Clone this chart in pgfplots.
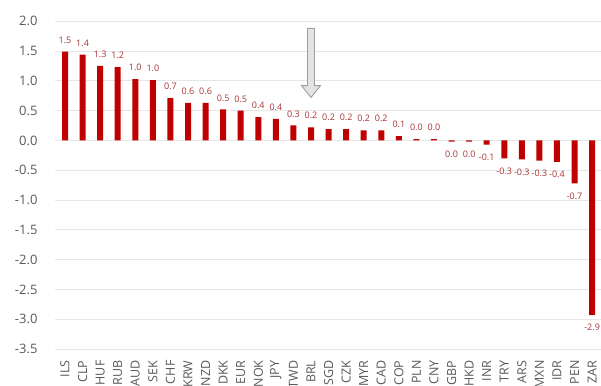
\documentclass[border=0pt]{standalone}
\usepackage{pgfplots}
\pgfplotsset{compat=1.18}
\usepackage{fontspec}
\setmainfont{Open Sans}
\definecolor{barred}{HTML}{C00000}
\definecolor{lblred}{HTML}{A83232}
\definecolor{tickgray}{HTML}{595959}
\definecolor{gridgray}{HTML}{E6E6E6}
\begin{document}
\begin{tikzpicture}
\path[use as bounding box, clip] (-55pt,-36pt) rectangle (546pt,349pt);
\begin{axis}[
  at={(0pt,0pt)}, anchor=south west,
  x=17.57pt, y=59.6pt,
  xmin=-0.57, xmax=30.55, ymin=-3.5, ymax=2.0,
  axis line style={draw=none},
  tick style={draw=none},
  ytick={-3.5,-3,...,2},
  ymajorgrids,
  major grid style={gridgray, line width=0.8pt},
  xtick={0,...,30},
  xticklabels={ILS,CLP,HUF,RUB,AUD,SEK,CHF,KRW,NZD,DKK,EUR,NOK,JPY,TWD,BRL,SGD,CZK,MYR,CAD,COP,PLN,CNY,GBP,HKD,INR,TRY,ARS,MXN,IDR,PEN,ZAR},
  x tick label style={rotate=90, anchor=east, font=\fontsize{12.5}{12.5}\selectfont, text=tickgray},
  xticklabel shift=8pt,
  y tick label style={font=\fontsize{13}{13}\selectfont, text=tickgray, anchor=east, xshift=-14pt},
  /pgf/number format/.cd, fixed, fixed zerofill, precision=1, assume math mode=true,
  /pgfplots/.cd,
  clip=false,
]
\addplot[ybar, bar width=6pt, bar shift=0pt, fill=barred, draw=none,
  nodes near coords, point meta=explicit symbolic,
  every node near coord/.append style={font=\fontsize{9}{9}\selectfont, text=lblred, inner xsep=0pt, inner ysep=8pt}]
coordinates {
(0,1.49)[1.5] (1,1.44)[1.4] (2,1.25)[1.3] (3,1.23)[1.2] (4,1.03)[1.0] (5,1.01)[1.0]
(6,0.71)[0.7] (7,0.63)[0.6] (8,0.63)[0.6] (9,0.52)[0.5] (10,0.50)[0.5] (11,0.39)[0.4]
(12,0.36)[0.4] (13,0.25)[0.3] (14,0.22)[0.2] (15,0.19)[0.2] (16,0.19)[0.2] (17,0.17)[0.2]
(18,0.17)[0.2] (19,0.07)[0.1] (20,0.02)[0.0] (21,0.02)[0.0]
};
\addplot[ybar, bar width=6pt, bar shift=0pt, fill=barred, draw=none,
  nodes near coords, point meta=explicit symbolic, nodes near coords align={below},
  every node near coord/.append style={font=\fontsize{9}{9}\selectfont, text=lblred, inner xsep=0pt, inner ysep=9pt}]
coordinates {
(22,-0.02)[0.0] (23,-0.02)[0.0]
(24,-0.07)[-0.1] (25,-0.30)[-0.3] (26,-0.32)[-0.3] (27,-0.34)[-0.3] (28,-0.36)[-0.4]
(29,-0.72)[-0.7] (30,-2.93)[-2.9]
};
\draw[gray!75, fill=gray!22, line width=0.9pt]
 (axis cs:13.8,1.88) -- (axis cs:14.2,1.88) -- (axis cs:14.2,0.92) -- (axis cs:14.54,0.92)
 -- (axis cs:14,0.72) -- (axis cs:13.46,0.92) -- (axis cs:13.8,0.92) -- cycle;
\end{axis}
\end{tikzpicture}
\end{document}
